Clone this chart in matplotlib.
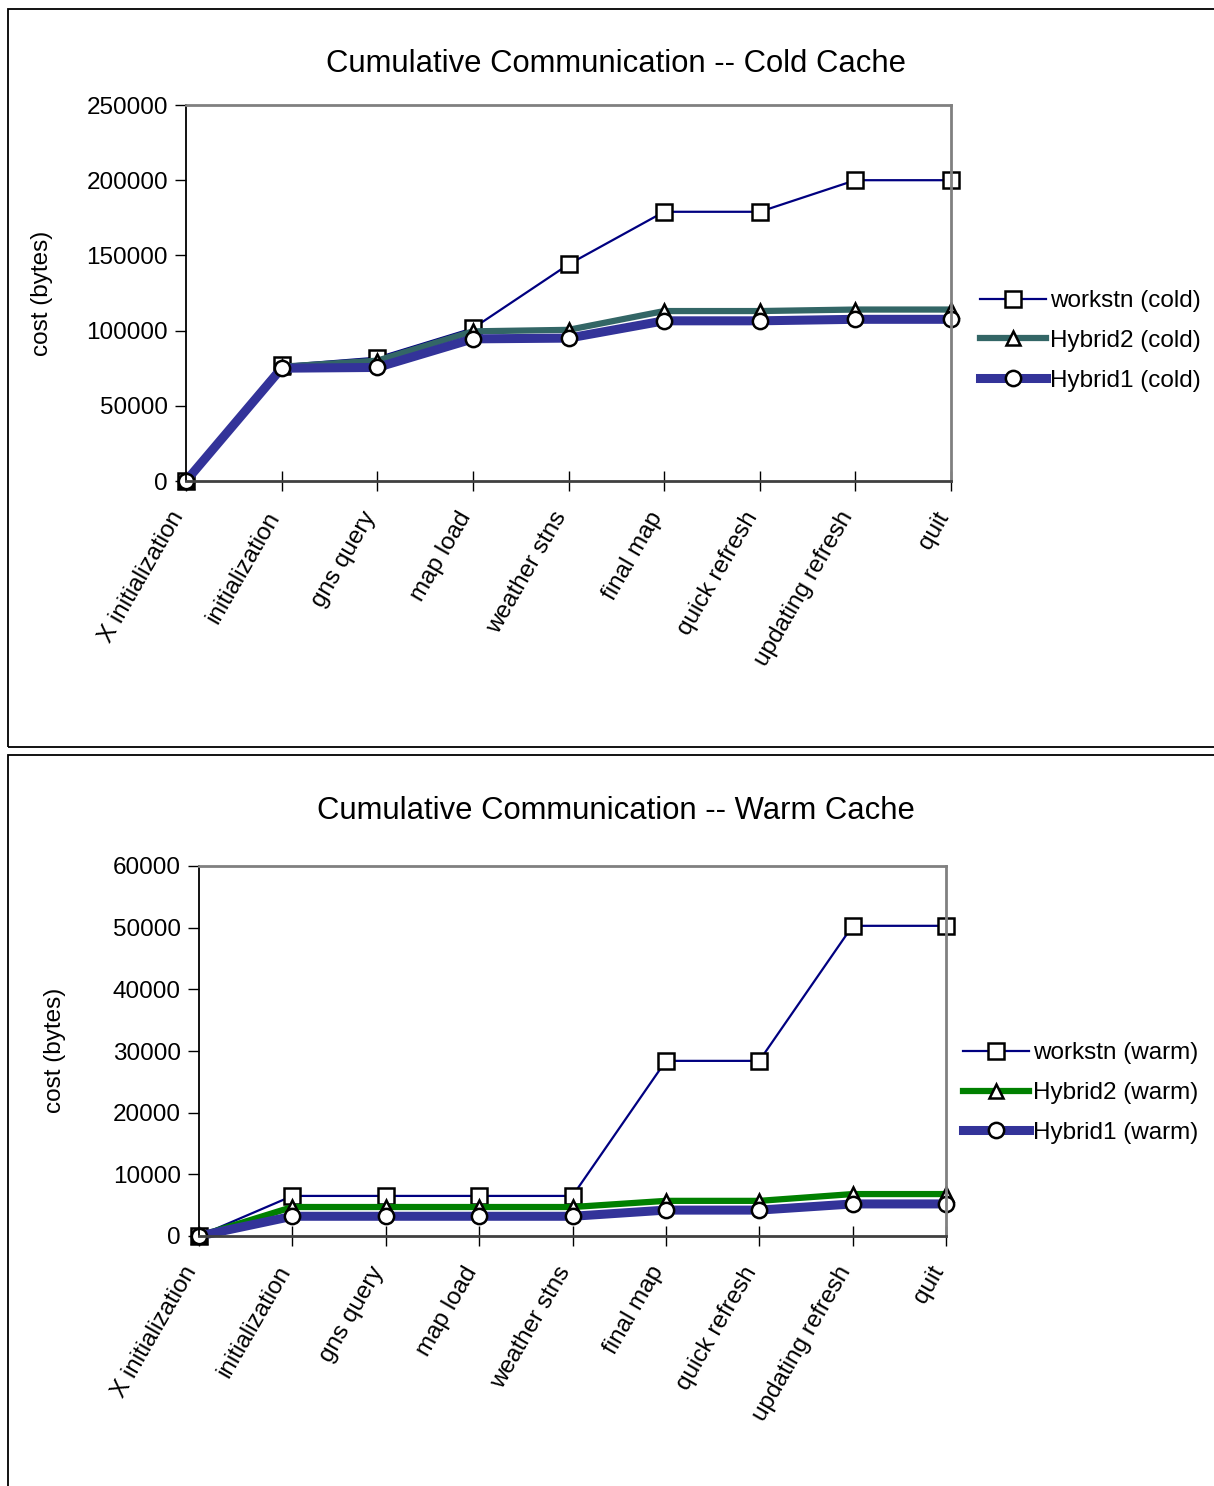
import matplotlib
matplotlib.use("Agg")
import matplotlib.pyplot as plt
import matplotlib.transforms as mtrans
from matplotlib.patches import Rectangle

plt.rcParams["font.family"] = ["Liberation Sans", "DejaVu Sans"]

steps = ["X initialization", "initialization", "gns query", "map load", "weather stns",
         "final map", "quick refresh", "updating refresh", "quit"]

# cold cache (bytes)
workstn_cold = [0, 77000, 82000, 101500, 144000, 179000, 179000, 200000, 200000]
hybrid2_cold = [0, 76000, 80000, 99500, 100500, 113000, 113000, 114000, 114000]
hybrid1_cold = [0, 75000, 75500, 94500, 95000, 106500, 106500, 107500, 107500]

# warm cache (bytes)
workstn_warm = [0, 6500, 6500, 6500, 6500, 28400, 28400, 50300, 50300]
hybrid2_warm = [0, 4700, 4700, 4700, 4700, 5700, 5700, 6800, 6800]
hybrid1_warm = [0, 3200, 3200, 3200, 3200, 4200, 4200, 5200, 5200]

cold_ticks = [0, 50000, 100000, 150000, 200000, 250000]
warm_ticks = [0, 10000, 20000, 30000, 40000, 50000, 60000]

W, H = 1214, 1486
FS = 17.5
fig = plt.figure(figsize=(W / 100, H / 100), dpi=100)

# panel borders
fig.patches.append(Rectangle((8 / W, 1 - 747 / H), 1.2, (747 - 9) / H, transform=fig.transFigure,
                             fill=False, edgecolor="black", linewidth=1.3))
fig.patches.append(Rectangle((8 / W, -0.2), 1.2, 0.2 + 1 - 755 / H, transform=fig.transFigure,
                             fill=False, edgecolor="black", linewidth=1.3))


def panel(rect, title, title_y, ylab_xy, series, labels, colors, widths, ticks, leg_xy):
    ax = fig.add_axes(rect)
    x = list(range(len(steps)))
    markers = ["s", "^", "o"]
    msizes = [12, 10.5, 11]
    for vals, lab, c, lw, m, ms in zip(series, labels, colors, widths, markers, msizes):
        ax.plot(x, vals, color=c, linewidth=lw, marker=m, markersize=ms,
                markerfacecolor="white", markeredgecolor="black", markeredgewidth=1.8,
                label=lab, clip_on=False, solid_joinstyle="round")
    ax.set_xlim(0, len(steps) - 1)
    ax.set_ylim(ticks[0], ticks[-1])
    ax.set_yticks(ticks)
    ax.set_yticklabels([str(t) for t in ticks], fontsize=FS)
    ax.set_xticks(x)
    ax.set_xticklabels(steps, rotation=60, ha="right", va="center", rotation_mode="anchor",
                       fontsize=FS)
    ax.tick_params(axis="y", direction="out", length=8, width=1, pad=5)
    ax.tick_params(axis="x", direction="inout", length=14, width=1, pad=4)
    shift = mtrans.ScaledTranslation(-7 / 100, 0, fig.dpi_scale_trans)
    for lbl in ax.get_xticklabels():
        lbl.set_y(-0.045)
        lbl.set_transform(lbl.get_transform() + shift)
    for s in ["top", "right"]:
        ax.spines[s].set_color("#808080")
        ax.spines[s].set_linewidth(2)
    ax.spines["left"].set_color("black")
    ax.spines["left"].set_linewidth(1.3)
    ax.spines["bottom"].set_color("#404040")
    ax.spines["bottom"].set_linewidth(2)
    fig.text(ylab_xy[0] / W, 1 - ylab_xy[1] / H, "cost (bytes)", rotation=90,
             ha="center", va="center", fontsize=FS)
    fig.text(616 / W, title_y, title, ha="center", va="center", fontsize=22.3)
    fig.legend(*ax.get_legend_handles_labels(), loc="center left",
               bbox_to_anchor=(leg_xy[0] / W, 1 - leg_xy[1] / H), frameon=False, fontsize=FS,
               handlelength=2.7, handletextpad=0.2, labelspacing=0.72, borderpad=0,
               borderaxespad=0)
    return ax


panel([186 / W, 1 - 481 / H, (951 - 186) / W, (481 - 105) / H],
      "Cumulative Communication -- Cold Cache", 1 - 64 / H, (42, 293),
      [workstn_cold, hybrid2_cold, hybrid1_cold],
      ["workstn (cold)", "Hybrid2 (cold)", "Hybrid1 (cold)"],
      ["#000080", "#336666", "#333399"], [1.6, 4.5, 6.5], cold_ticks, (980, 341))

panel([199 / W, 1 - 1236 / H, (946 - 199) / W, (1236 - 866) / H],
      "Cumulative Communication -- Warm Cache", 1 - 811 / H, (55, 1050),
      [workstn_warm, hybrid2_warm, hybrid1_warm],
      ["workstn (warm)", "Hybrid2 (warm)", "Hybrid1 (warm)"],
      ["#000080", "#008000", "#333399"], [1.6, 4.5, 6.5], warm_ticks, (963, 1093))

fig.savefig("out.png", dpi=100)
